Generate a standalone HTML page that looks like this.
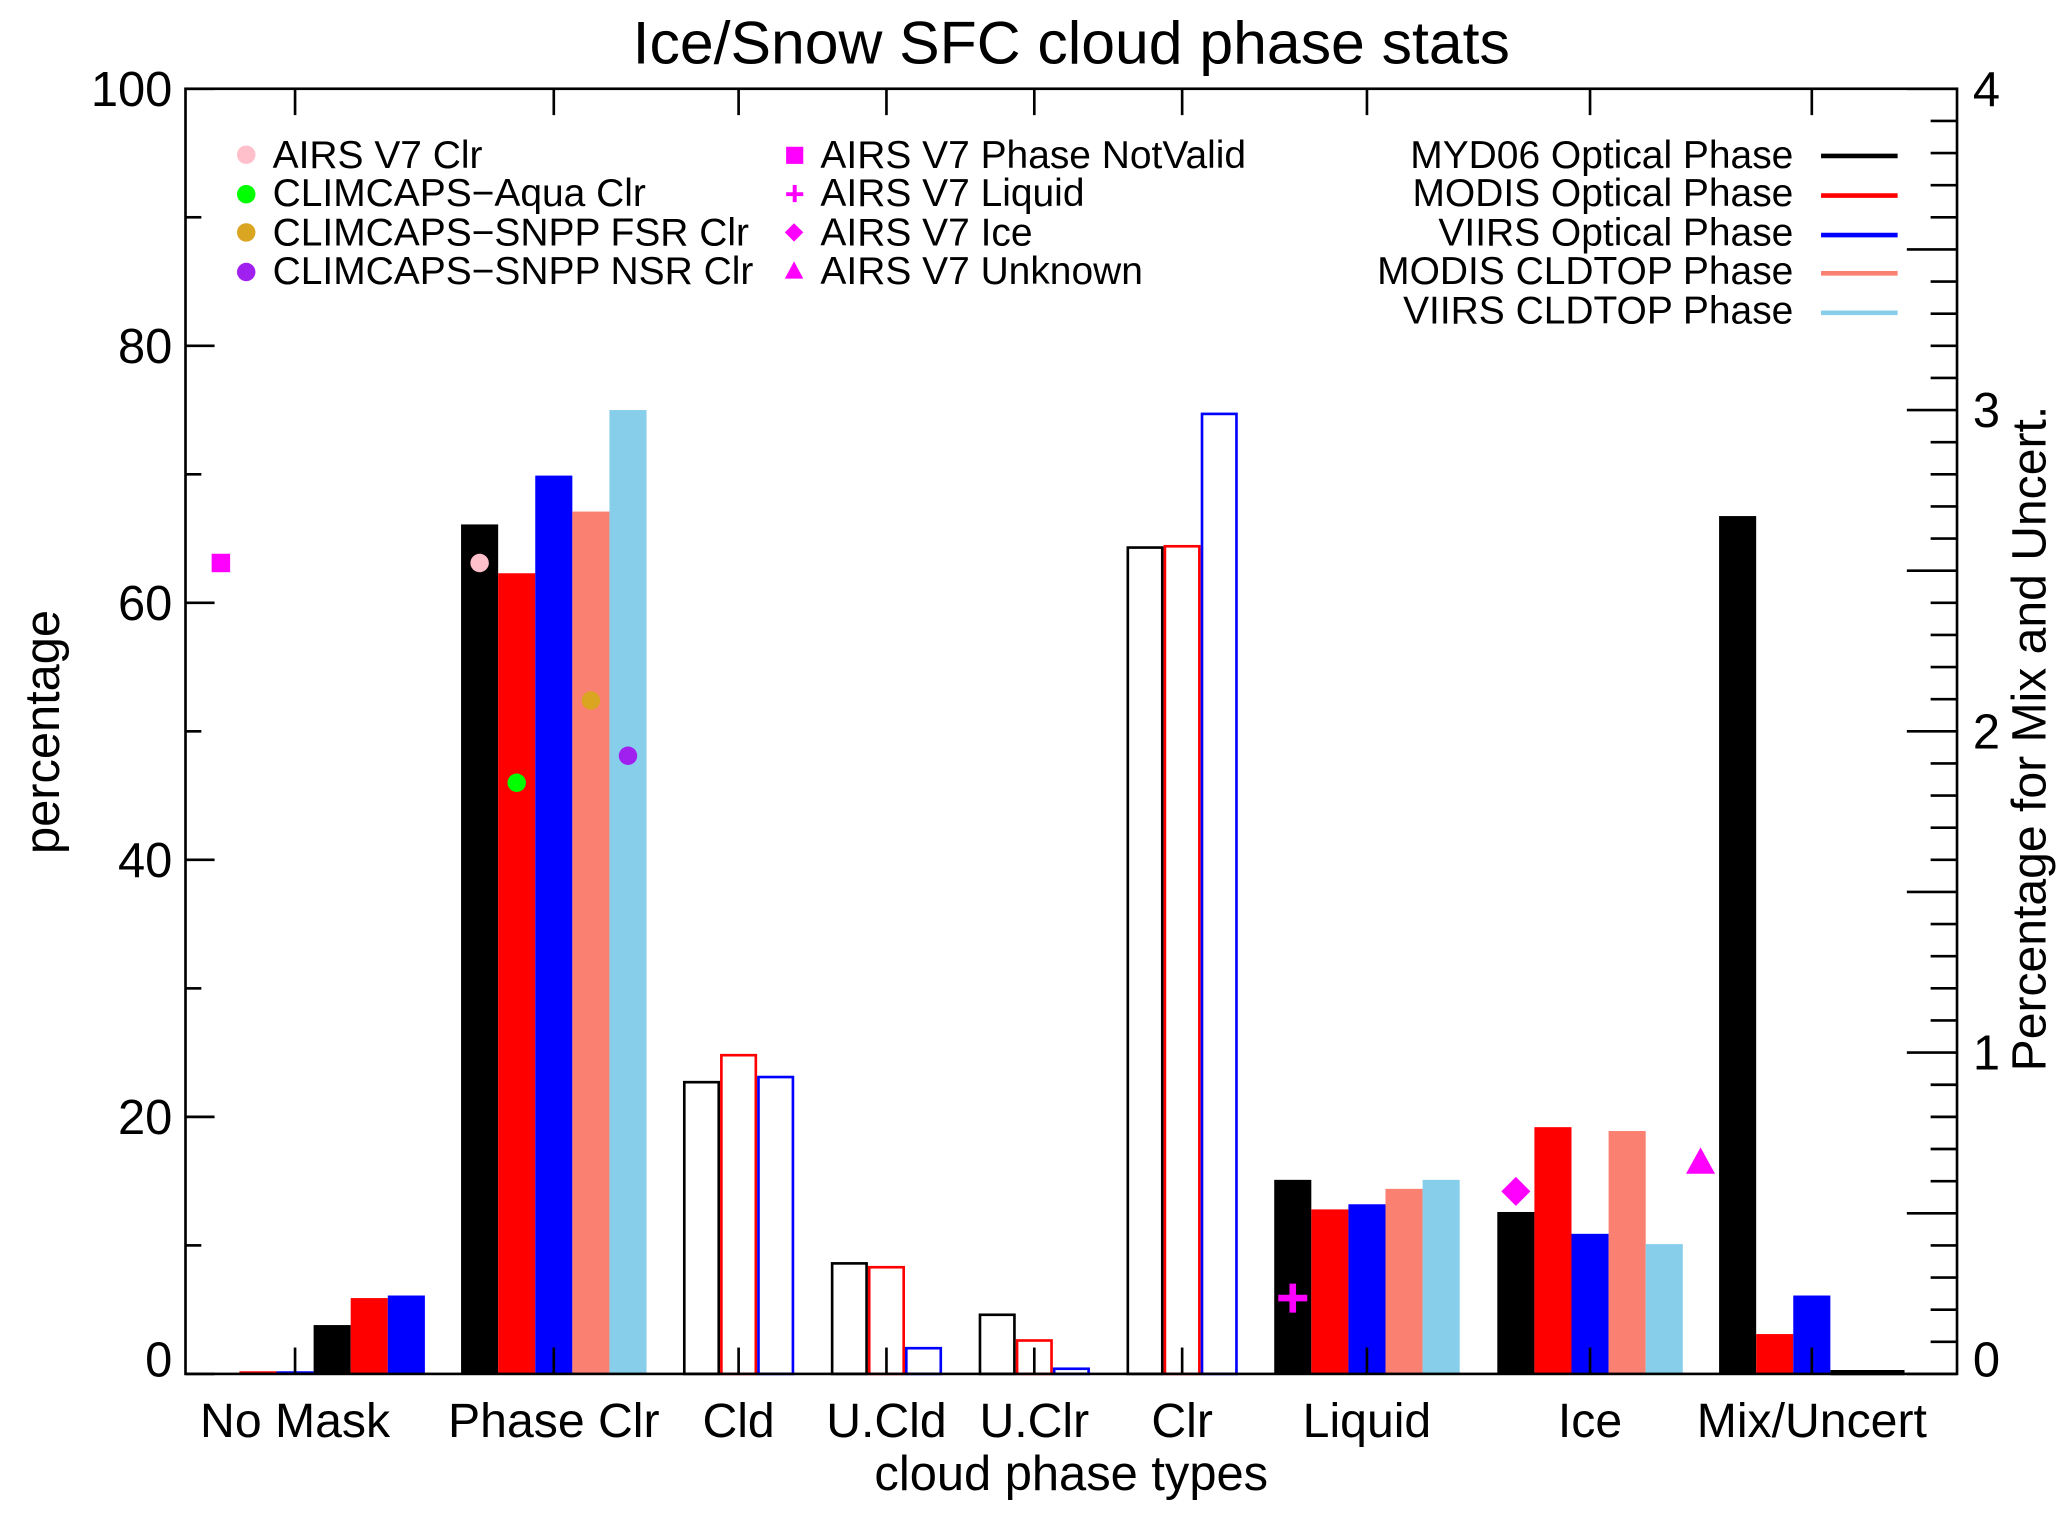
<!DOCTYPE html>
<html><head><meta charset="utf-8"><style>
html,body{margin:0;padding:0;background:#fff;}
svg{display:block;font-family:"Liberation Sans",Arial,sans-serif;}
</style></head><body>
<svg id="chart" width="2067" height="1517" viewBox="0 0 1560 1145" preserveAspectRatio="none" xmlns="http://www.w3.org/2000/svg">
<g transform="translate(1.52,0.34) scale(0.99627,0.99487)">
<text x="810" y="48" font-size="46" text-anchor="middle">Ice/Snow SFC cloud phase stats</text>
<g id="plot"></g>
<text transform="translate(43,555) rotate(-90)" font-size="37" text-anchor="middle">percentage</text>
<text transform="translate(1548,560) rotate(-90)" font-size="36.5" text-anchor="middle">Percentage for Mix and Uncert.</text>
<text x="810" y="1130" font-size="37" text-anchor="middle">cloud phase types</text>
<g font-size="29.5">
 <circle cx="185" cy="117" r="7" fill="#ffc0cb"/><text x="205" y="127">AIRS V7 Clr</text>
 <circle cx="185" cy="147" r="7" fill="#00ff00"/><text x="205" y="156">CLIMCAPS−Aqua Clr</text>
 <circle cx="185" cy="176" r="7" fill="#daa520"/><text x="205" y="186">CLIMCAPS−SNPP FSR Clr</text>
 <circle cx="185" cy="206" r="7" fill="#a020f0"/><text x="205" y="215">CLIMCAPS−SNPP NSR Clr</text>
 <rect x="594" y="111" width="13" height="13" fill="#ff00ff"/><text x="620" y="127">AIRS V7 Phase NotValid</text>
 <path d="M594 147h13M600.5 140v13" stroke="#ff00ff" stroke-width="3"/><text x="620" y="156">AIRS V7 Liquid</text>
 <path d="M600 169l7 7l-7 7l-7-7z" fill="#ff00ff"/><text x="620" y="186">AIRS V7 Ice</text>
 <path d="M600 198l7 13h-14z" fill="#ff00ff"/><text x="620" y="215">AIRS V7 Unknown</text>
 <g text-anchor="end">
 <text x="1357" y="127">MYD06 Optical Phase</text><line x1="1378" x2="1436" y1="118" y2="118" stroke="#000" stroke-width="3.5"/>
 <text x="1357" y="156">MODIS Optical Phase</text><line x1="1378" x2="1436" y1="148" y2="148" stroke="#f00" stroke-width="3.5"/>
 <text x="1357" y="186">VIIRS Optical Phase</text><line x1="1378" x2="1436" y1="178" y2="178" stroke="#00f" stroke-width="3.5"/>
 <text x="1357" y="215">MODIS CLDTOP Phase</text><line x1="1378" x2="1436" y1="207" y2="207" stroke="#fa8072" stroke-width="3.5"/>
 <text x="1357" y="245">VIIRS CLDTOP Phase</text><line x1="1378" x2="1436" y1="237" y2="237" stroke="#87ceeb" stroke-width="3.5"/>
 </g>
</g>
</g>
</svg>
<script>
const categories = ["No Mask","Phase Clr","Cld","U.Cld","U.Clr","Clr","Liquid","Ice","Mix/Uncert"];
const leftTicks = [0,20,40,60,80,100];
const rightTicks = [0,1,2,3,4];
// bar values per category (left-axis %, Mix/Uncert on right-axis scale)
const myd06 = [3.8,66.1,22.7,8.6,4.6,64.3,15.1,12.6,2.67];
const modisOpt = [5.9,62.3,24.8,8.3,2.6,64.4,12.8,19.2,0.124];
const viirsOpt = [6.1,69.9,23.1,2.0,0.4,74.7,13.2,10.9,0.244];
const modisTop = [null,67.1,null,null,null,null,14.4,18.9,0.0];
const viirsTop = [null,75.0,null,null,null,null,15.1,10.1,0.0];
const noMaskZero = [0,0];
// markers
const airsClr = 63.1, aquaClr = 46.0, fsrClr = 52.4, nsrClr = 48.1;
const notValid = 63.1, airsLiquid = 5.9, airsIce = 14.2, airsUnknownRight = 0.66;

const X0=139,X1=1481,Y0=1042,Y1=67,W=28.1;
const tickX=[222,418,558,670,782,894,1034,1203,1371];
const y=v=>Y0-(v/100)*(Y0-Y1);
const y2=v=>Y0-(v/4)*(Y0-Y1);
const g=document.getElementById('plot');
const NS='http://www.w3.org/2000/svg';
function mk(t,a){const e=document.createElementNS(NS,t);for(const k in a)e.setAttribute(k,a[k]);g.appendChild(e);return e;}
const colors=['#000','#f00','#00f','#fa8072','#87ceeb'];
const series=[myd06,modisOpt,viirsOpt,modisTop,viirsTop];
const startSlot=[0.5,-2.5,-1.5,-1.5,-1.5,-1.5,-2.5,-2.5,-2.5];
const outline=[false,false,true,true,true,true,false,false,false];
categories.forEach((c,i)=>{
  series.forEach((s,j)=>{
    const v=s[i]; if(v===null) return;
    const x=tickX[i]+(startSlot[i]+j)*W;
    const yy=(i===8?y2(v):y(v));
    const h=Y0-yy;
    let r;
    if(outline[i]) r=mk('rect',{x:x+1,y:yy,width:W-2,height:Math.max(h,0),fill:'none',stroke:colors[j],'stroke-width':2});
    else r=mk('rect',{x:x,y:yy,width:W,height:Math.max(h,0),fill:colors[j]});
    
    
  });
});
noMaskZero.forEach((v,j)=>{
  const x=tickX[0]+(-1.5+j)*W;
  const l=mk('line',{x1:x,x2:x+W,y1:y(v)-1,y2:y(v)-1,stroke:colors[j+1],'stroke-width':2});
  
  
});
const mz=mk('line',{x1:tickX[8]+0.5*W,x2:tickX[8]+2.5*W,y1:Y0-1,y2:Y0-1,stroke:'#000','stroke-width':4});


const ax=mk('rect',{x:X0,y:Y1,width:X1-X0,height:Y0-Y1,fill:'none',stroke:'#000','stroke-width':2});


for(let v=0;v<=100;v+=10){const L=v%20===0?22:12;const t=mk('line',{x1:X0,x2:X0+L,y1:y(v),y2:y(v),stroke:'#000','stroke-width':2});}
leftTicks.forEach(v=>{const t=mk('text',{x:X0-10,y:(v===0?y(v)+2:y(v)+13),'font-size':37,'text-anchor':'end'});t.textContent=v;});
for(let k=0;k<=40;k++){const v=k/10;const L=(k%5===0)?38:20;const t=mk('line',{x1:X1-L,x2:X1,y1:y2(v),y2:y2(v),stroke:'#000','stroke-width':2});}
rightTicks.forEach(v=>{const t=mk('text',{x:X1+12,y:(v===0?y2(v)+2:y2(v)+13),'font-size':37});t.textContent=v;});
categories.forEach((c,i)=>{
  const a=mk('line',{x1:tickX[i],x2:tickX[i],y1:Y0,y2:Y0-20,stroke:'#000','stroke-width':2});
  const b=mk('line',{x1:tickX[i],x2:tickX[i],y1:Y1,y2:Y1+20,stroke:'#000','stroke-width':2});
  const t=mk('text',{x:tickX[i],y:1090,'font-size':36.5,'text-anchor':'middle'});t.textContent=c;
});
function circ(i,slot,v,col,name){const e=mk('circle',{cx:tickX[i]+(slot+0.5)*W,cy:y(v),r:7,fill:col});}
circ(1,-2.5,airsClr,'#ffc0cb','marker-airs-clr');
circ(1,-1.5,aquaClr,'#00ff00','marker-aqua-clr');
circ(1,0.5,fsrClr,'#daa520','marker-fsr-clr');
circ(1,1.5,nsrClr,'#a020f0','marker-nsr-clr');
let cx=tickX[0]-2*W, cy=y(notValid);
let m=mk('rect',{x:cx-7,y:cy-7,width:14,height:14,fill:'#ff00ff'});
cx=tickX[6]-2*W; cy=y(airsLiquid);
m=mk('path',{d:`M${cx-11} ${cy}h22M${cx} ${cy-11}v22`,stroke:'#ff00ff','stroke-width':5});
cx=tickX[7]-2*W; cy=y(airsIce);
m=mk('path',{d:`M${cx} ${cy-11}l11 11l-11 11l-11-11z`,fill:'#ff00ff'});
cx=tickX[8]-3*W; cy=y2(airsUnknownRight);
m=mk('path',{d:`M${cx} ${cy-11}l11 20h-22z`,fill:'#ff00ff'});
</script>
</body></html>
